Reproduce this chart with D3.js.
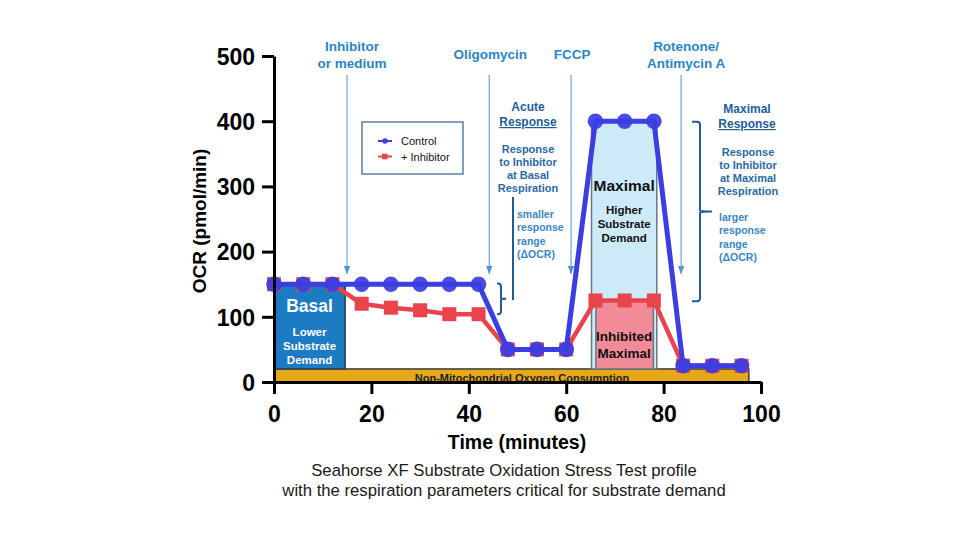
<!DOCTYPE html>
<html>
<head>
<meta charset="utf-8">
<script src="https://cdn.jsdelivr.net/npm/d3@7"></script>
<style>
  html, body { margin: 0; padding: 0; background: #fff; }
  svg text { font-family: "Liberation Sans", Arial, Helvetica, sans-serif; }
</style>
</head>
<body>
<svg id="chart" width="960" height="540"></svg>
<script>
// ---------- data ----------
const time      = [0, 6, 12, 18, 24, 30, 36, 42, 48, 54, 60, 66, 72, 78, 84, 90, 96];
const control   = [150, 150, 150, 150, 150, 150, 150, 150, 50, 50, 50, 400, 400, 400, 25, 25, 25];
const inhibitor = [150, 150, 150, 120, 114, 110, 104, 104, 50, 50, 50, 125, 125, 125, 25, 25, 25];
const seriesNames = ["Control", "+ Inhibitor"];

const xTicks = [0, 20, 40, 60, 80, 100];
const yTicks = [0, 100, 200, 300, 400, 500];

// injections (minutes) and their labels
const injectionTimes  = [15, 44.2, 61, 83.6];
const injectionLabels = [["Inhibitor", "or medium"], ["Oligomycin"], ["FCCP"], ["Rotenone/", "Antimycin A"]];

// shaded regions: [startMin, endMin, lowOCR, highOCR]
const regionNames = ["Non-Mitochondrial", "Basal", "Maximal", "Inhibited Maximal"];
const regionStart = [0, 0, 65.2, 66.1];
const regionEnd   = [97.5, 14.6, 78.6, 77.9];
const regionLow   = [0, 20, 20, 20];
const regionHigh  = [20, 150, 400, 125];

// response ranges (OCR) marked with braces
const acuteRange   = [104, 151];
const maximalRange = [124, 399];

// ---------- layout ----------
const svg = d3.select("#chart");
const x = d3.scaleLinear().domain([0, 100]).range([274, 761]);
const y = d3.scaleLinear().domain([0, 500]).range([382, 56]);

const BLUE = "#3c3de3", RED = "#e8454b";
const regionFill   = ["#e6a817", "#1c7bc3", "#cdeaf8", "#f28b97"];
const regionStroke = ["#3a3a3a", "#2a3a4a", "#6a7680", "#6a7680"];

// regions
const g = svg.append("g");
regionNames.forEach((n, i) => {
  g.append("rect")
    .attr("x", x(regionStart[i]))
    .attr("y", y(regionHigh[i]))
    .attr("width", x(regionEnd[i]) - x(regionStart[i]))
    .attr("height", y(regionLow[i]) - y(regionHigh[i]))
    .attr("fill", regionFill[i])
    .attr("stroke", regionStroke[i])
    .attr("stroke-width", 1.5);
});

// region texts
function ctext(xp, yp, txt, size, color, weight) {
  return svg.append("text").attr("x", xp).attr("y", yp).attr("text-anchor", "middle")
    .attr("font-size", size).attr("font-weight", weight || "bold").attr("fill", color).text(txt);
}
const basalCx = (x(regionStart[1]) + x(regionEnd[1])) / 2;
ctext(basalCx, 312, "Basal", 17.5, "#fff");
ctext(basalCx, 336, "Lower", 11.5, "#fff");
ctext(basalCx, 350, "Substrate", 11.5, "#fff");
ctext(basalCx, 364, "Demand", 11.5, "#fff");

const maxCx = (x(regionStart[2]) + x(regionEnd[2])) / 2;
ctext(maxCx, 191, "Maximal", 15.5, "#111");
ctext(maxCx, 214, "Higher", 11.5, "#111");
ctext(maxCx, 228, "Substrate", 11.5, "#111");
ctext(maxCx, 242, "Demand", 11.5, "#111");
ctext(maxCx, 341, "Inhibited", 13.5, "#111");
ctext(maxCx, 358, "Maximal", 13.5, "#111");

ctext(522, 382, "Non-Mitochondrial Oxygen Consumption", 11, "#222");

// injection arrows
svg.append("defs").append("marker")
  .attr("id", "arr").attr("viewBox", "0 0 10 10").attr("refX", 10).attr("refY", 5)
  .attr("markerWidth", 7).attr("markerHeight", 7).attr("orient", "auto")
  .append("path").attr("d", "M0,1 L10,5 L0,9 Z").attr("fill", "#4f94cf");

injectionTimes.forEach((t, i) => {
  svg.append("line")
    .attr("x1", x(t)).attr("x2", x(t)).attr("y1", 75).attr("y2", 274)
    .attr("stroke", "#6aa3d6").attr("stroke-width", 1.2)
    .attr("marker-end", "url(#arr)");
  const lines = injectionLabels[i];
  const base = lines.length === 2 ? 51 : 59;
  lines.forEach((l, j) => {
    ctext(x(t) + (i === 0 ? 5 : (i === 3 ? 5 : 1)), base + j * 16.5, l, 13.5, "#2b86c8");
  });
});

// series lines & markers
const line = d3.line().x((d, i) => x(time[i])).y(d => y(d));
svg.append("path").datum(inhibitor).attr("d", line)
  .attr("fill", "none").attr("stroke", RED).attr("stroke-width", 4.5).attr("stroke-linejoin", "round");
svg.selectAll("rect.sq").data(inhibitor).enter().append("rect")
  .attr("x", (d, i) => x(time[i]) - 7).attr("y", d => y(d) - 7)
  .attr("width", 14).attr("height", 14).attr("fill", RED);
svg.append("path").datum(control).attr("d", line)
  .attr("fill", "none").attr("stroke", BLUE).attr("stroke-width", 5).attr("stroke-linejoin", "round");
svg.selectAll("circle.ct").data(control).enter().append("circle")
  .attr("cx", (d, i) => x(time[i])).attr("cy", d => y(d)).attr("r", 7.8)
  .attr("fill", BLUE).attr("fill-opacity", 0.92);

// axes
const yAxis = d3.axisLeft(y).tickValues(yTicks).tickSize(12).tickSizeOuter(0).tickPadding(7);
const xAxis = d3.axisBottom(x).tickValues(xTicks).tickSize(12).tickSizeOuter(0).tickPadding(12);
const ya = svg.append("g").attr("transform", `translate(${x(0)},0)`).call(yAxis);
const xa = svg.append("g").attr("transform", `translate(0,${y(0)})`).call(xAxis);
[ya, xa].forEach(a => {
  a.selectAll("path, line").attr("stroke", "#000").attr("stroke-width", 3);
  a.selectAll("text").attr("font-size", 23).attr("font-weight", "bold").attr("fill", "#000")
    .attr("font-family", '"Liberation Sans", Arial, sans-serif');
});
ya.selectAll("text").attr("dy", "0.36em");

// axis titles
svg.append("text").attr("transform", "translate(206,221) rotate(-90)")
  .attr("text-anchor", "middle").attr("font-size", 19).attr("font-weight", "bold").attr("fill", "#000")
  .text("OCR (pmol/min)");
svg.append("text").attr("x", 517).attr("y", 449)
  .attr("text-anchor", "middle").attr("font-size", 19.5).attr("font-weight", "bold").attr("fill", "#000")
  .text("Time (minutes)");

// caption
ctext(504, 476, "Seahorse XF Substrate Oxidation Stress Test profile", 16.7, "#1a1a1a", "normal");
ctext(504, 496, "with the respiration parameters critical for substrate demand", 16.7, "#1a1a1a", "normal");

// legend
const lg = svg.append("g");
lg.append("rect").attr("x", 362).attr("y", 122).attr("width", 101).attr("height", 52)
  .attr("fill", "#fff").attr("stroke", "#5a7fa8").attr("stroke-width", 1.5);
const legColors = [BLUE, RED];
seriesNames.forEach((n, i) => {
  const yy = 141 + i * 15.5;
  lg.append("line").attr("x1", 378).attr("x2", 392).attr("y1", yy).attr("y2", yy)
    .attr("stroke", legColors[i]).attr("stroke-width", 2);
  if (i === 0) lg.append("circle").attr("cx", 385).attr("cy", yy).attr("r", 2.8).attr("fill", BLUE);
  else lg.append("rect").attr("x", 382).attr("y", yy - 2.8).attr("width", 5.6).attr("height", 5.6).attr("fill", RED);
  lg.append("text").attr("x", 401).attr("y", yy + 4).attr("font-size", 11).attr("fill", "#111").text(n);
});

// acute response annotation
const HEAD = "#1f5d99", DESC = "#2a6aa6", RNG = "#3a86c6";
ctext(528, 111, "Acute", 12, HEAD);
ctext(528, 126, "Response", 12, HEAD).style("text-decoration", "underline");
["Response", "to Inhibitor", "at Basal", "Respiration"].forEach((t, i) => ctext(528, 153 + i * 13, t, 11, DESC));
svg.append("line").attr("x1", 513).attr("x2", 513).attr("y1", 197).attr("y2", 300)
  .attr("stroke", HEAD).attr("stroke-width", 2);
["smaller", "response", "range", "(ΔOCR)"].forEach((t, i) =>
  svg.append("text").attr("x", 517).attr("y", 218 + i * 13.3).attr("font-size", 10.5)
    .attr("font-weight", "bold").attr("fill", RNG).text(t));

// maximal response annotation
ctext(747, 113, "Maximal", 12, HEAD);
ctext(747, 128, "Response", 12, HEAD).style("text-decoration", "underline");
["Response", "to Inhibitor", "at Maximal", "Respiration"].forEach((t, i) => ctext(748, 156 + i * 13, t, 11, DESC));
["larger", "response", "range", "(ΔOCR)"].forEach((t, i) =>
  svg.append("text").attr("x", 719).attr("y", 221 + i * 13.3).attr("font-size", 10.5)
    .attr("font-weight", "bold").attr("fill", RNG).text(t));

// braces
function brace(xl, xm, xt, yTop, yBot) {
  const ym = (yTop + yBot) / 2;
  const r = 3;
  const p = `M${xl},${yTop} L${xm - r},${yTop} Q${xm},${yTop} ${xm},${yTop + r} L${xm},${ym - 1}
             Q${xm},${ym} ${xt},${ym} M${xm},${ym + 1} Q${xm},${ym} ${xt},${ym}
             M${xm},${ym + 1} L${xm},${yBot - r} Q${xm},${yBot} ${xm - r},${yBot} L${xl},${yBot}`;
  svg.append("path").attr("d", p).attr("fill", "none").attr("stroke", HEAD).attr("stroke-width", 2);
}
brace(497, 501, 506, y(acuteRange[1]), y(acuteRange[0]));
brace(692, 700, 712, y(maximalRange[1]), y(maximalRange[0]));
</script>
</body>
</html>
